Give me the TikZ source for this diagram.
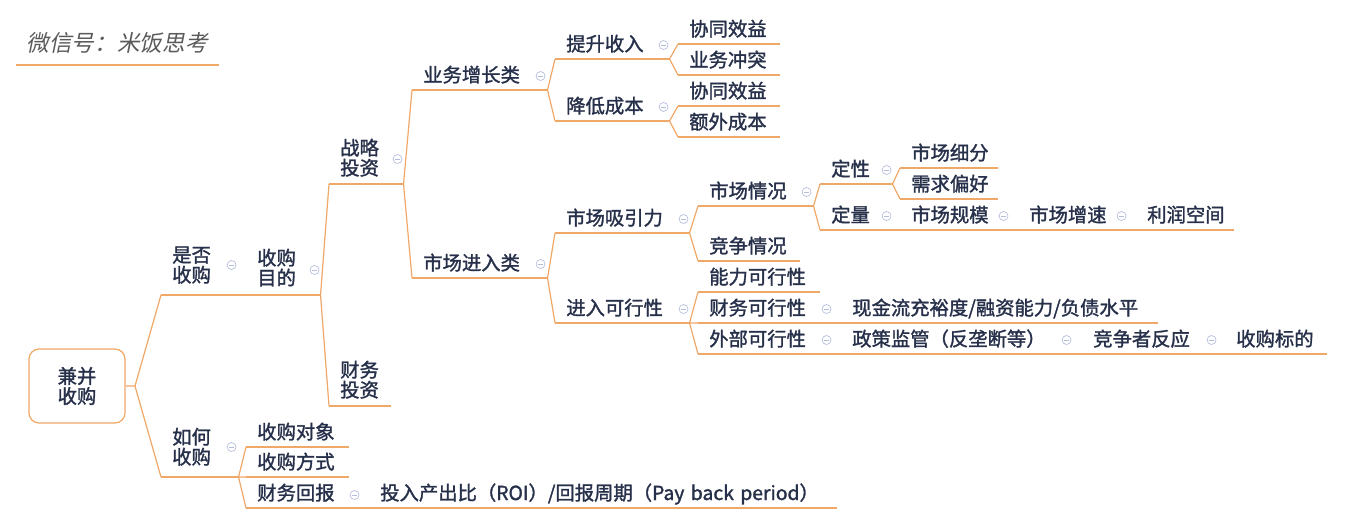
\documentclass[tikz,border=0pt]{standalone}
\usepackage{fontspec}
\setmainfont{Noto Sans CJK SC}[FakeBold=1.5]
\newfontfamily\titlefont{Noto Sans CJK SC}[FakeSlant=0.2]
\definecolor{linec}{HTML}{F0A868}
\definecolor{textc}{HTML}{27304A}
\definecolor{iconc}{HTML}{B4BCDC}
\definecolor{titlec}{HTML}{5A5A5A}

\begin{document}
\begin{tikzpicture}[x=0.75pt, y=-0.75pt, font=\fontsize{14.5pt}{15pt}\selectfont, text=textc]
  % Define styles
  \tikzstyle{link} = [draw=linec, line width=0.9pt]
  \tikzstyle{topic} = [anchor=south west, inner xsep=8.25pt, inner ysep=5.8pt, text depth=0pt, align=left,
                       append after command={\pgfextra{\draw[link] (\tikzlastnode.south west) -- (\tikzlastnode.south east);}}]
  \tikzstyle{twoline} = [text depth=15pt]
  \tikzstyle{root} = [draw=linec, line width=0.9pt, rounded corners=7.5pt, minimum width=72pt,
                      minimum height=55.5pt, align=center]
  \tikzstyle{title} = [anchor=south west, minimum width=151.5pt, inner ysep=10pt, text depth=0pt, text=titlec,
                       font=\titlefont\fontsize{17pt}{17pt}\selectfont,
                       append after command={\pgfextra{\draw[link] (\tikzlastnode.south west) -- (\tikzlastnode.south east);}}]
  \tikzstyle{minus} = [circle, draw=iconc, line width=0.5pt, minimum size=6.75pt, inner sep=0pt,
                       path picture={\draw[iconc, line width=0.5pt] ([xshift=-1.6pt]path picture bounding box.center)
                       -- ([xshift=1.6pt]path picture bounding box.center);}]

  \useasboundingbox (0,0) rectangle (1345,524);

  % Title
  \node[title] (wx) at (16,65) {微信号：米饭思考};

  % Nodes
  \node[root] (root) at (77,386) {兼并\\收购};
  \coordinate (jn) at (135,386);
  \node[topic, twoline, text width=42.75pt, inner ysep=9.5pt] (sfsg) at (161,295) {是否\\收购};
  \node[topic, twoline, text width=39pt, inner ysep=7.3pt] (gmmd) at (246,295) {收购\\目的};
  \node[topic, twoline, text width=39pt, inner ysep=6.5pt] (zltz) at (329,184) {战略\\投资};
  \node[topic, twoline, text width=29.25pt, inner ysep=6.5pt] (cwtz) at (329,406) {财务\\投资};
  \node[topic, text width=84.75pt] (ywzz) at (412,90) {业务增长类};
  \node[topic, text width=84.75pt] (scjr) at (412,278) {市场进入类};
  \node[topic, text width=69pt] (tssr) at (555,59) {提升收入};
  \node[topic, text width=69pt] (jdcb) at (555,121) {降低成本};
  \node[topic, text width=59.25pt] (xtxya) at (678,44) {协同效益};
  \node[topic, text width=59.25pt] (ywct) at (678,75) {业务冲突};
  \node[topic, text width=59.25pt] (xtxyb) at (678,106) {协同效益};
  \node[topic, text width=59.25pt] (ewcb) at (678,137) {额外成本};
  \node[topic, text width=84pt] (scxyl) at (555,233) {市场吸引力};
  \node[topic, text width=84pt] (jrkxx) at (555,323) {进入可行性};
  \node[topic, text width=69.75pt] (scqk) at (698,206) {市场情况};
  \node[topic, text width=59.25pt] (jzqk) at (698,261) {竞争情况};
  \node[topic, text width=37.5pt] (dx) at (820,184) {定性};
  \node[topic, text width=37.5pt] (dl) at (820,230) {定量};
  \node[topic, text width=56.25pt] (scxf) at (900,168) {市场细分};
  \node[topic, text width=56.25pt] (xqph) at (900,199) {需求偏好};
  \node[topic, text width=66pt] (scgm) at (900,230) {市场规模};
  \node[topic, text width=66pt] (scss) at (1018,230) {市场增速};
  \node[topic, text width=56.25pt] (lrkj) at (1136,230) {利润空间};
  \node[topic, text width=74.25pt] (nlkxx) at (698,292) {能力可行性};
  \node[topic, text width=84pt] (cwkxx) at (698,323) {财务可行性};
  \node[topic, text width=84pt] (wbkxx) at (698,354) {外部可行性};
  \node[topic, text width=220.5pt] (xjl) at (841,323) {\mbox{现金流充裕度/融资能力/负债水平}};
  \node[topic, text width=156.75pt] (zcjg) at (841,354) {\mbox{政策监管（反垄断等）}};
  \node[topic, text width=84.75pt] (jzzfy) at (1082,354) {竞争者反应};
  \node[topic, text width=59.25pt] (sgbd) at (1225,354) {收购标的};
  \node[topic, twoline, text width=41.25pt, inner ysep=9.5pt] (rhsg) at (161,477) {如何\\收购};
  \node[topic, text width=60pt] (sgdx) at (246,447) {收购对象};
  \node[topic, text width=60pt] (sgfs) at (246,477) {收购方式};
  \node[topic, text width=69pt] (cwhb) at (246,508) {财务回报};
  \node[topic, text width=333.75pt] (trcc) at (369,508) {\mbox{投入产出比（ROI）/回报周期（Pay back period）}};

  % Collapse icons
  \node[minus] (m-sfsg) at ([shift={(-9,-30)}]sfsg.south east) {};
  \node[minus] (m-gmmd) at ([shift={(-6,-25)}]gmmd.south east) {};
  \node[minus] (m-zltz) at ([shift={(-6,-25)}]zltz.south east) {};
  \node[minus] (m-ywzz) at ([shift={(-7,-14)}]ywzz.south east) {};
  \node[minus] (m-scjr) at ([shift={(-7,-14)}]scjr.south east) {};
  \node[minus] (m-tssr) at ([shift={(-6,-14)}]tssr.south east) {};
  \node[minus] (m-jdcb) at ([shift={(-6,-14)}]jdcb.south east) {};
  \node[minus] (m-scxyl) at ([shift={(-6,-14)}]scxyl.south east) {};
  \node[minus] (m-jrkxx) at ([shift={(-6,-14)}]jrkxx.south east) {};
  \node[minus] (m-scqk) at ([shift={(-7,-14)}]scqk.south east) {};
  \node[minus] (m-dx) at ([shift={(-6,-14)}]dx.south east) {};
  \node[minus] (m-dl) at ([shift={(-6,-14)}]dl.south east) {};
  \node[minus] (m-scgm) at ([shift={(-7,-14)}]scgm.south east) {};
  \node[minus] (m-scss) at ([shift={(-7,-14)}]scss.south east) {};
  \node[minus] (m-cwkxx) at ([shift={(-6,-14)}]cwkxx.south east) {};
  \node[minus] (m-wbkxx) at ([shift={(-6,-14)}]wbkxx.south east) {};
  \node[minus] (m-zcjg) at ([shift={(-6,-14)}]zcjg.south east) {};
  \node[minus] (m-jzzfy) at ([shift={(-6,-14)}]jzzfy.south east) {};
  \node[minus] (m-rhsg) at ([shift={(-7,-30)}]rhsg.south east) {};
  \node[minus] (m-cwhb) at ([shift={(-6,-13)}]cwhb.south east) {};

  % Connectors
  \draw[link] (root.east) -- (jn) -- (sfsg.south west) (jn) -- (rhsg.south west);
  \draw[link] (sfsg.south east) -- (gmmd.south west);
  \draw[link] (gmmd.south east) -- (zltz.south west) (gmmd.south east) -- (cwtz.south west);
  \draw[link] (zltz.south east) -- (ywzz.south west) (zltz.south east) -- (scjr.south west);
  \draw[link] (ywzz.south east) -- (tssr.south west) (ywzz.south east) -- (jdcb.south west);
  \draw[link] (tssr.south east) -- (xtxya.south west) (tssr.south east) -- (ywct.south west);
  \draw[link] (jdcb.south east) -- (xtxyb.south west) (jdcb.south east) -- (ewcb.south west);
  \draw[link] (scjr.south east) -- (scxyl.south west) (scjr.south east) -- (jrkxx.south west);
  \draw[link] (scxyl.south east) -- (scqk.south west) (scxyl.south east) -- (jzqk.south west);
  \draw[link] (scqk.south east) -- (dx.south west) (scqk.south east) -- (dl.south west);
  \draw[link] (dx.south east) -- (scxf.south west) (dx.south east) -- (xqph.south west);
  \draw[link] (dl.south east) -- (scgm.south west);
  \draw[link] (scgm.south east) -- (scss.south west);
  \draw[link] (scss.south east) -- (lrkj.south west);
  \draw[link] (jrkxx.south east) -- (nlkxx.south west) (jrkxx.south east) -- (cwkxx.south west)
              (jrkxx.south east) -- (wbkxx.south west);
  \draw[link] (cwkxx.south east) -- (xjl.south west);
  \draw[link] (wbkxx.south east) -- (zcjg.south west);
  \draw[link] (zcjg.south east) -- (jzzfy.south west);
  \draw[link] (jzzfy.south east) -- (sgbd.south west);
  \draw[link] (rhsg.south east) -- (sgdx.south west) (rhsg.south east) -- (sgfs.south west)
              (rhsg.south east) -- (cwhb.south west);
  \draw[link] (cwhb.south east) -- (trcc.south west);
\end{tikzpicture}
\end{document}
